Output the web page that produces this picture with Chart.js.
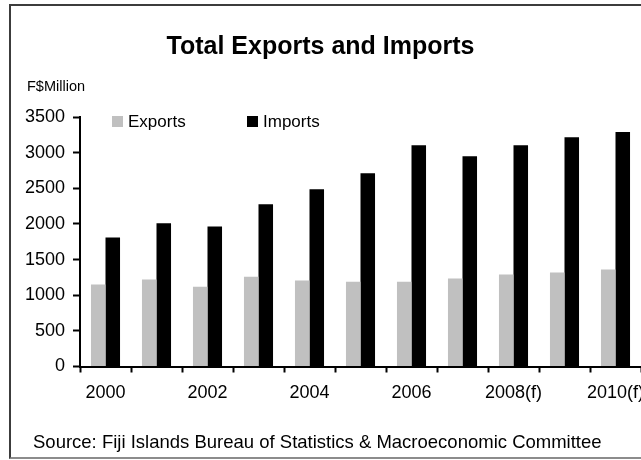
<!DOCTYPE html>
<html>
<head>
<meta charset="utf-8">
<script src="https://cdn.jsdelivr.net/npm/chart.js@4.4.1/dist/chart.umd.min.js"></script>
<style>
  html, body { margin: 0; padding: 0; background: #ffffff; overflow: hidden; width: 641px; height: 460px; }
  #frame {
    position: absolute; left: 9px; top: 4px; width: 800px; height: 451px;
    border-top: 2px solid #3c3c3c; border-left: 2px solid #3c3c3c; border-bottom: 2px solid #8c8c8c;
  }
  #c { position: absolute; left: 0; top: 0; }
</style>
</head>
<body>
<div id="frame"></div>
<canvas id="c" width="680" height="460"></canvas>
<script>
// Fiji total exports and imports, F$ million
const years = ['2000', '2001', '2002', '2003', '2004', '2005', '2006', '2007', '2008(f)', '2009(f)', '2010(f)'];
const exportsValues = [1150, 1220, 1120, 1260, 1205, 1190, 1190, 1235, 1290, 1320, 1360];
const importsValues = [1810, 2010, 1965, 2275, 2485, 2710, 3105, 2950, 3105, 3215, 3290];
const yTicks = { min: 0, max: 3500, step: 500 };

const FONT = '"Liberation Sans", Arial, Helvetica, sans-serif';

// Unit caption, in-plot legend and source line
const annotations = {
  id: 'annotations',
  afterDraw(chart) {
    const ctx = chart.ctx;
    ctx.save();
    ctx.fillStyle = '#000';
    ctx.textAlign = 'left';
    ctx.textBaseline = 'alphabetic';

    ctx.font = '14.5px ' + FONT;
    ctx.fillText('F$Million', 27, 91);

    const legendX = [112, 247];
    ctx.font = '17px ' + FONT;
    chart.data.datasets.forEach((ds, i) => {
      const x = legendX[i];
      ctx.fillStyle = ds.backgroundColor;
      ctx.fillRect(x, 116, 11, 11);
      ctx.fillStyle = '#000';
      ctx.fillText(ds.label, x + 16, 127);
    });

    ctx.font = '18.5px ' + FONT;
    ctx.fillText('Source: Fiji Islands Bureau of Statistics & Macroeconomic Committee', 33, 448);
    ctx.restore();
  }
};

new Chart(document.getElementById('c'), {
  type: 'bar',
  data: {
    labels: years,
    datasets: [
      { label: 'Exports', data: exportsValues, backgroundColor: '#c0c0c0', borderWidth: 0 },
      { label: 'Imports', data: importsValues, backgroundColor: '#000000', borderWidth: 0 }
    ]
  },
  options: {
    responsive: false,
    animation: false,
    events: [],
    datasets: { bar: { categoryPercentage: 0.57, barPercentage: 1.0 } },
    layout: { padding: { top: 0, left: 0, right: 39, bottom: 53.5 } },
    plugins: {
      legend: { display: false },
      tooltip: { enabled: false },
      title: {
        display: true,
        text: 'Total Exports and Imports',
        color: '#000',
        font: { family: FONT, size: 25, weight: 'bold' },
        padding: { top: 32.3, bottom: 54.7 }
      }
    },
    scales: {
      x: {
        grid: { display: true, drawOnChartArea: false, offset: true, color: '#000', tickLength: 6, tickWidth: 2 },
        border: { display: true, color: '#000', width: 2 },
        ticks: {
          autoSkip: false,
          maxRotation: 0,
          padding: 10,
          color: '#000',
          font: { family: FONT, size: 18 },
          callback: function (value, index) { return index % 2 === 0 ? this.getLabelForValue(value) : ''; }
        },
        afterFit(scale) { scale.height = 40; }
      },
      y: {
        min: yTicks.min,
        max: yTicks.max,
        grid: { display: true, drawOnChartArea: false, color: '#000', tickLength: 7, tickWidth: 2 },
        border: { display: true, color: '#000', width: 2 },
        ticks: {
          stepSize: yTicks.step,
          padding: 8,
          color: '#000',
          font: { family: FONT, size: 18 },
          callback: (value) => String(value)
        },
        afterFit(scale) { scale.width = 80; }
      }
    }
  },
  plugins: [annotations]
});
</script>
</body>
</html>
